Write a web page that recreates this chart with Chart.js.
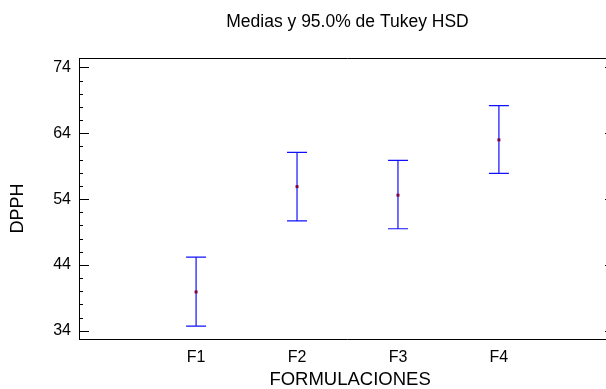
<!DOCTYPE html>
<html>
<head>
<meta charset="utf-8">
<script src="https://cdn.jsdelivr.net/npm/chart.js@4/dist/chart.umd.min.js"></script>
<style>
  body { margin: 0; background: #fff; }
  #wrap { width: 606px; height: 389px; overflow: hidden; }
</style>
</head>
<body>
<div id="wrap"><canvas id="tukeyCanvas" width="695" height="389"></canvas></div>
<script>
const categories = ["F1", "F2", "F3", "F4"];
const xPositions = [1, 2, 3, 4];
const means = [39.9, 55.9, 54.6, 63.0];
const lowerLimits = [34.7, 50.7, 49.5, 57.9];
const upperLimits = [45.2, 61.1, 59.9, 68.2];
const yTickLabels = [34, 44, 54, 64, 74];

const fontFamily = "'Liberation Sans', Arial, sans-serif";

// intervals, frame lines and inward tick marks
const framePlugin = {
  id: "frame",
  beforeDatasetsDraw(chart) {
    const ctx = chart.ctx;
    const a = chart.chartArea;
    const x = chart.scales.x;
    const y = chart.scales.y;
    ctx.save();
    ctx.lineWidth = 1.2;
    ctx.strokeStyle = "#1010ff";
    for (let i = 0; i < xPositions.length; i++) {
      const px = x.getPixelForValue(xPositions[i]);
      const top = y.getPixelForValue(upperLimits[i]);
      const bot = y.getPixelForValue(lowerLimits[i]);
      ctx.beginPath();
      ctx.moveTo(px, top); ctx.lineTo(px, bot);
      ctx.moveTo(px - 10, top); ctx.lineTo(px + 10, top);
      ctx.moveTo(px - 10, bot); ctx.lineTo(px + 10, bot);
      ctx.stroke();
    }
    ctx.restore();

    ctx.save();
    ctx.lineWidth = 1;
    ctx.strokeStyle = "#000";
    ctx.beginPath();
    ctx.moveTo(a.left + 0.5, a.top + 0.5); ctx.lineTo(a.right, a.top + 0.5);
    ctx.moveTo(a.left + 0.5, a.bottom + 0.5); ctx.lineTo(a.right, a.bottom + 0.5);
    ctx.moveTo(a.left + 0.5, a.top); ctx.lineTo(a.left + 0.5, a.bottom + 1);
    for (let v = yTickLabels[0]; v <= yTickLabels[yTickLabels.length - 1]; v += 2) {
      const py = Math.round(y.getPixelForValue(v)) + 0.5;
      const major = yTickLabels.includes(v);
      ctx.moveTo(a.left, py); ctx.lineTo(a.left + (major ? 10 : 4), py);
      ctx.moveTo(a.right, py); ctx.lineTo(a.right - (major ? 11 : 4), py);
    }
    ctx.stroke();
    ctx.restore();
  }
};

new Chart(document.getElementById("tukeyCanvas"), {
  type: "scatter",
  data: {
    datasets: [{
      data: xPositions.map((v, i) => ({ x: v, y: means[i] })),
      pointStyle: "rect",
      pointRadius: 2.1,
      backgroundColor: "#800040",
      borderWidth: 0
    }]
  },
  options: {
    responsive: false,
    animation: false,
    layout: { padding: 0 },
    plugins: {
      legend: { display: false },
      tooltip: { enabled: false },
      title: {
        display: true,
        text: "Medias y 95.0% de Tukey HSD",
        color: "#000",
        font: { family: fontFamily, size: 17.5, weight: "normal", lineHeight: 1.2 },
        padding: { top: 12, bottom: 25 }
      }
    },
    scales: {
      x: {
        type: "linear",
        min: -0.16,
        max: 5.16,
        grid: { display: false, drawTicks: false },
        border: { display: false },
        afterBuildTicks: s => { s.ticks = xPositions.map(v => ({ value: v })); },
        afterFit: s => { s.height = 50; },
        ticks: {
          padding: 9,
          color: "#000",
          font: { family: fontFamily, size: 16 },
          callback: v => categories[xPositions.indexOf(v)]
        },
        title: {
          display: true,
          text: "\u00a0FORMULACIONES",
          color: "#000",
          font: { family: fontFamily, size: 18.5, lineHeight: 1.0 },
          padding: 0
        }
      },
      y: {
        type: "linear",
        min: 32.75,
        max: 75.44,
        grid: { display: false, drawTicks: false },
        border: { display: false },
        afterBuildTicks: s => { s.ticks = yTickLabels.map(v => ({ value: v })); },
        afterFit: s => { s.width = 79; },
        ticks: {
          padding: 8,
          color: "#000",
          font: { family: fontFamily, size: 16 }
        },
        title: {
          display: true,
          text: "DPPH\u00a0\u00a0\u00a0\u00a0",
          color: "#000",
          font: { family: fontFamily, size: 18, lineHeight: 1.2 },
          padding: { top: 7.5, bottom: 0 }
        }
      },
      yRight: {
        type: "linear",
        position: "right",
        grid: { display: false, drawTicks: false },
        border: { display: false },
        ticks: { display: false },
        afterFit: s => { s.width = 79; }
      }
    }
  },
  plugins: [framePlugin]
});
</script>
</body>
</html>
